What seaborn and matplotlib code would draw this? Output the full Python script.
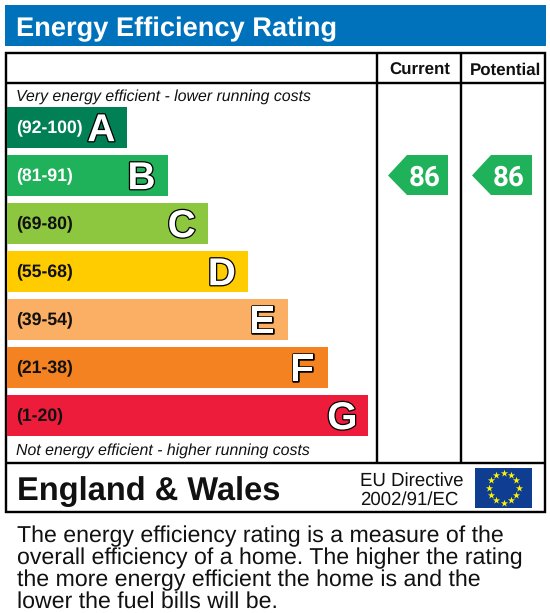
import numpy as np
import pandas as pd
import matplotlib
matplotlib.use("Agg")
import matplotlib.pyplot as plt
import matplotlib.patheffects as pe
from matplotlib.patches import Rectangle, Polygon
import seaborn as sns

letters = ["A", "B", "C", "D", "E", "F", "G"]
ranges = ["(92-100)", "(81-91)", "(69-80)", "(55-68)", "(39-54)", "(21-38)", "(1-20)"]
band_lengths = [30, 40, 50, 60, 70, 80, 90]
band_colors = ["#008054", "#1FB25A", "#8DC63F", "#FFCC00", "#FBAF65", "#F58220", "#ED1C3B"]
current_score = 86
potential_score = 86
current_band = "B"
potential_band = "B"

W, H = 550, 613
sns.set_theme(style="white")
plt.rcParams["font.family"] = ["Liberation Sans", "DejaVu Sans"]
plt.rcParams["text.hinting"] = "no_hinting"
plt.rcParams["text.hinting_factor"] = 8
fig = plt.figure(figsize=(W / 100, H / 100), dpi=100, facecolor="white")


def px_axes(x0, y0, x1, y1):
    return fig.add_axes([x0 / W, 1 - y1 / H, (x1 - x0) / W, (y1 - y0) / H])


# overlay in pixel coordinates for layout furniture
ov = px_axes(0, 0, W, H)
ov.set_xlim(0, W)
ov.set_ylim(H, 0)
ov.axis("off")

# bands
ax = px_axes(7, 103.5, 368, 439.5)
df = pd.DataFrame({"letter": letters, "length": band_lengths})
sns.barplot(data=df, y="letter", x="length", hue="letter", palette=band_colors,
            saturation=1, width=41 / 48, legend=False, ax=ax, linewidth=0)
ax.set_xlim(0, 89.9)
ax.set_ylim(6.5, -0.5)
ax.axis("off")
ax.patch.set_alpha(0)

for i, (r, l, v) in enumerate(zip(ranges, letters, band_lengths)):
    ax.text(2.3, i - 0.035, r, color="white" if i < 2 else "#111111", fontsize=12.7, fontweight="bold",
            va="center_baseline", ha="left")
    ax.text(v - 6.5, i - 0.01, l, color="white", fontsize=28, fontweight="bold", ha="center",
            va="center_baseline",
            path_effects=[pe.Stroke(linewidth=1.8, foreground="black"), pe.Normal()])

# title band
ov.add_patch(Rectangle((5, 5), 541, 41, fc="#0072BC", ec="none"))
ov.text(16, 26, "Energy Efficiency Rating", color="white", fontsize=19.6, fontweight="bold",
        va="center_baseline", ha="left")
# frame
lw = 2.4 * 0.72
ov.add_patch(Rectangle((6, 53), 539, 459, fc="none", ec="black", lw=lw))
for y in (83, 463):
    ov.plot([6, 545], [y, y], color="black", lw=lw, solid_capstyle="butt")
for x in (377, 461):
    ov.plot([x, x], [53, 463], color="black", lw=lw, solid_capstyle="butt")

ov.text(419.5, 68.6, "Current", fontsize=12.2, fontweight="bold", ha="center", va="center_baseline", color="#111111")
ov.text(505.5, 68.6, "Potential", fontsize=12.2, fontweight="bold", ha="center", va="center_baseline", color="#111111")
ov.text(16, 95.2, "Very energy efficient - lower running costs", fontsize=11.4, style="italic",
        va="center_baseline", color="#111111")
ov.text(16, 449.2, "Not energy efficient - higher running costs", fontsize=11.4, style="italic",
        va="center_baseline", color="#111111")


def arrow(x_tip, band, score):
    yc = 127 + 48 * letters.index(band)
    col = band_colors[letters.index(band)]
    ov.add_patch(Polygon([(x_tip, yc + 0.5), (x_tip + 19, yc - 20), (x_tip + 60, yc - 20),
                          (x_tip + 60, yc + 20), (x_tip + 19, yc + 20)], fc=col, ec="none"))
    ov.text(x_tip + 36.5, yc + 0.5, str(score), color="white", fontsize=20, fontweight="bold",
            ha="center", va="center_baseline", family="Roboto")


arrow(388, current_band, current_score)
arrow(472, potential_band, potential_score)

# footer
ov.text(17, 488.5, "England & Wales", fontsize=23.5, fontweight="bold", va="center_baseline", color="#111111")
ov.text(360, 479, "EU Directive", fontsize=13.4, va="center_baseline", color="#111111")
ov.text(360, 498, "2002/91/EC", fontsize=13.4, va="center_baseline", color="#111111")

# EU flag
ov.add_patch(Rectangle((475, 468), 57, 40, fc="#0F3D91", ec="none"))
ang = np.deg2rad(np.arange(0, 360, 30))
ov.scatter(503.5 + 15 * np.cos(ang), 487.5 + 15 * np.sin(ang), marker="*", s=30,
           color="#FFF200", linewidths=0, zorder=3)

# caption
caption = ["The energy efficiency rating is a measure of the",
           "overall efficiency of a home. The higher the rating",
           "the more energy efficient the home is and the",
           "lower the fuel bills will be."]
for i, line in enumerate(caption):
    ov.text(17, 533.5 + 22 * i, line, fontsize=16.7, va="center_baseline", color="#111111")

fig.savefig("out.png", dpi=100, facecolor="white")
